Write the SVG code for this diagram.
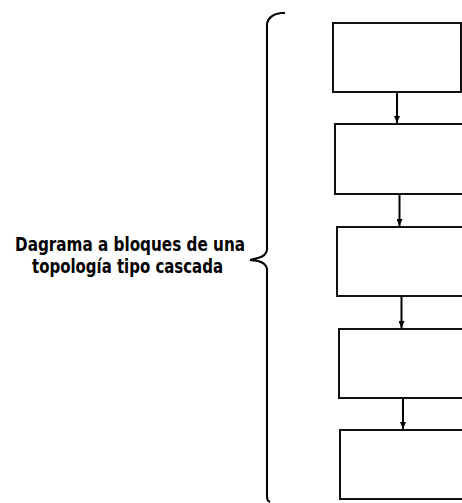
<svg xmlns="http://www.w3.org/2000/svg" width="462" height="503" viewBox="0 0 462 503">
<defs>
<style>
.box{fill:#fff;stroke:#111;stroke-width:2}
.con{stroke:#000;stroke-width:2;fill:none}
.brace{stroke:#000;stroke-width:2;fill:none}
.lbl{font-family:"DejaVu Sans Condensed","DejaVu Sans","Liberation Sans",sans-serif;font-stretch:condensed;font-weight:bold;font-size:20px;fill:#000}
</style>
<marker id="ah" markerWidth="8" markerHeight="6" refX="7" refY="3" orient="auto" markerUnits="userSpaceOnUse">
<path d="M0,0 L7,3 L0,6 Z" fill="#000"/>
</marker>
</defs>
<rect width="462" height="503" fill="#fff"/>
<g id="label">
<text class="lbl" x="15" y="251" textLength="230" lengthAdjust="spacingAndGlyphs">Dagrama a bloques de una</text>
<text class="lbl" x="32" y="273" textLength="191" lengthAdjust="spacingAndGlyphs">topología tipo cascada</text>
</g>
<g id="brace">
<path class="brace" d="M285,13 L281,13 Q268,15 267,24 L267,250 Q266,256 258,258 L250,260 L258,261 Q266,263 267,269 L267,497 Q267,501 270,502"/>
</g>
<g id="box1"><rect class="box" x="333" y="23" width="128" height="69"/></g>
<g id="box2"><rect class="box" x="335" y="124" width="140" height="70"/></g>
<g id="box3"><rect class="box" x="337" y="227" width="140" height="69"/></g>
<g id="box4"><rect class="box" x="339" y="329" width="140" height="69"/></g>
<g id="box5"><rect class="box" x="340" y="430" width="140" height="69"/></g>
<g id="connectors">
<line class="con" x1="397" y1="92" x2="397" y2="123" marker-end="url(#ah)"/>
<line class="con" x1="399.5" y1="194" x2="399.5" y2="226" marker-end="url(#ah)"/>
<line class="con" x1="401.5" y1="296" x2="401.5" y2="328" marker-end="url(#ah)"/>
<line class="con" x1="403" y1="398" x2="403" y2="429" marker-end="url(#ah)"/>
</g>
</svg>
